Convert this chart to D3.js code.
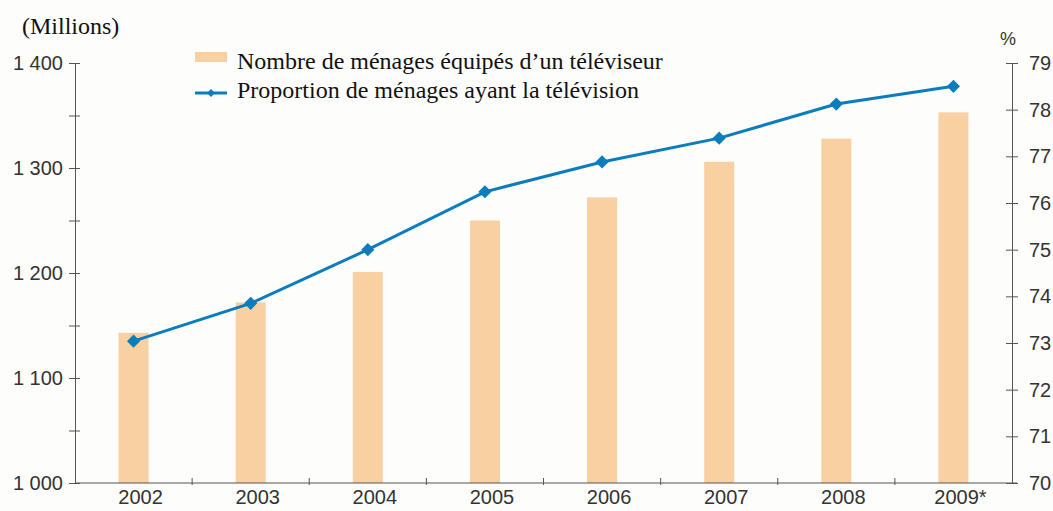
<!DOCTYPE html>
<html>
<head>
<meta charset="utf-8">
<script src="https://cdn.jsdelivr.net/npm/d3@7"></script>
<style>
  body { margin: 0; background: #fdfdfb; }
  svg { display: block; }
</style>
</head>
<body>
<div id="chart"></div>
<script>
// data
const years = ["2002", "2003", "2004", "2005", "2006", "2007", "2008", "2009*"];
const households = [1143, 1172, 1201, 1250, 1272, 1306, 1328, 1353]; // millions
const proportion = [73.04, 73.85, 75.0, 76.24, 76.88, 77.39, 78.12, 78.5]; // %
const leftTicks = [1000, 1050, 1100, 1150, 1200, 1250, 1300, 1350, 1400];
const rightTicks = [70, 71, 72, 73, 74, 75, 76, 77, 78, 79];
const legendLabels = ["Nombre de ménages équipés d’un téléviseur", "Proportion de ménages ayant la télévision"];

const W = 1053, H = 511;
const plotLeft = 75, plotRight = 1012, plotTop = 63, plotBottom = 483;

const barColor = "#f8d0a2";
const lineColor = "#0b7dbd";
const axisColor = "#555";
const sans = "'Liberation Sans', Arial, sans-serif";
const serif = "'Liberation Serif', 'Times New Roman', serif";

const svg = d3.select("#chart").append("svg")
  .attr("width", W)
  .attr("height", H);

// scales
const x = d3.scaleBand().domain(years).range([plotLeft, plotRight]).padding(0);
const yL = d3.scaleLinear().domain([1000, 1400]).range([plotBottom, plotTop]);
const yR = d3.scaleLinear().domain([70, 79]).range([plotBottom, plotTop]);

const fmt = d3.formatLocale({ decimal: ",", thousands: " ", grouping: [3], currency: ["", ""] }).format(",d");

// bars
const barW = 30;
svg.selectAll(".bar")
  .data(households)
  .enter()
  .append("rect")
  .attr("class", "bar")
  .attr("x", (d, i) => x(years[i]) + x.bandwidth() / 2 - barW / 2)
  .attr("y", d => yL(d))
  .attr("width", barW)
  .attr("height", d => yL(1000) - yL(d))
  .attr("fill", barColor);

// left axis
const gL = svg.append("g")
  .attr("transform", "translate(" + plotLeft + ",0)")
  .call(d3.axisLeft(yL).tickValues(leftTicks).tickSize(6).tickPadding(6)
    .tickFormat(d => d % 100 === 0 ? fmt(d) : ""));
gL.select(".domain").attr("stroke", axisColor);
gL.selectAll(".tick line").attr("stroke", axisColor).attr("x1", 5).attr("x2", -6);
gL.selectAll(".tick text")
  .attr("font-family", sans).attr("font-size", 20).attr("fill", "#333");

// right axis
const gR = svg.append("g")
  .attr("transform", "translate(" + plotRight + ",0)")
  .call(d3.axisRight(yR).tickValues(rightTicks).tickSize(6).tickPadding(11));
gR.select(".domain").attr("stroke", axisColor);
gR.selectAll(".tick line").attr("stroke", axisColor).attr("x1", -6).attr("x2", 6);
gR.selectAll(".tick text")
  .attr("font-family", sans).attr("font-size", 20).attr("fill", "#333");

// bottom axis
const gB = svg.append("g")
  .attr("transform", "translate(0," + plotBottom + ")")
  .call(d3.axisBottom(x).tickSize(0).tickPadding(7).tickSizeOuter(0));
gB.select(".domain").attr("stroke", axisColor).attr("d", "M" + plotLeft + ",0H" + (plotRight + 5));
gB.selectAll(".tick text")
  .attr("font-family", sans).attr("font-size", 20).attr("fill", "#333")
  .attr("dx", 7);
// tick marks between the categories
gB.selectAll(".sep")
  .data(years.slice(0, -1))
  .enter()
  .append("line")
  .attr("x1", d => x(d) + x.bandwidth())
  .attr("x2", d => x(d) + x.bandwidth())
  .attr("y1", -5)
  .attr("y2", 2)
  .attr("stroke", axisColor);

// line series
const cx = (d, i) => x(years[i]) + x.bandwidth() / 2;
const line = d3.line().x(cx).y(d => yR(d));
svg.append("path")
  .datum(proportion)
  .attr("d", line)
  .attr("fill", "none")
  .attr("stroke", lineColor)
  .attr("stroke-width", 3);

const diamond = d3.symbol().type(d3.symbolDiamond2).size(110);
svg.selectAll(".pt")
  .data(proportion)
  .enter()
  .append("path")
  .attr("class", "pt")
  .attr("d", diamond)
  .attr("transform", (d, i) => "translate(" + cx(d, i) + "," + yR(d) + ")")
  .attr("fill", lineColor);

// titles
svg.append("text")
  .attr("x", 22).attr("y", 34)
  .attr("font-family", serif).attr("font-size", 24).attr("fill", "#111")
  .text("(Millions)");
svg.append("text")
  .attr("x", 1008).attr("y", 45)
  .attr("text-anchor", "middle")
  .attr("font-family", sans).attr("font-size", 18).attr("fill", "#333")
  .text("%");

// legend
const lg = svg.append("g").attr("transform", "translate(195,0)");
lg.append("rect")
  .attr("x", 0).attr("y", 52).attr("width", 32).attr("height", 10)
  .attr("fill", barColor);
lg.append("line")
  .attr("x1", 0).attr("x2", 32).attr("y1", 93).attr("y2", 93)
  .attr("stroke", lineColor).attr("stroke-width", 3);
lg.append("path")
  .attr("d", d3.symbol().type(d3.symbolDiamond2).size(40))
  .attr("transform", "translate(16,93)")
  .attr("fill", lineColor);
lg.selectAll(".lt")
  .data(legendLabels)
  .enter()
  .append("text")
  .attr("class", "lt")
  .attr("x", 42)
  .attr("y", (d, i) => 69 + i * 29)
  .attr("font-family", serif).attr("font-size", 24).attr("fill", "#111")
  .text(d => d);
</script>
</body>
</html>
